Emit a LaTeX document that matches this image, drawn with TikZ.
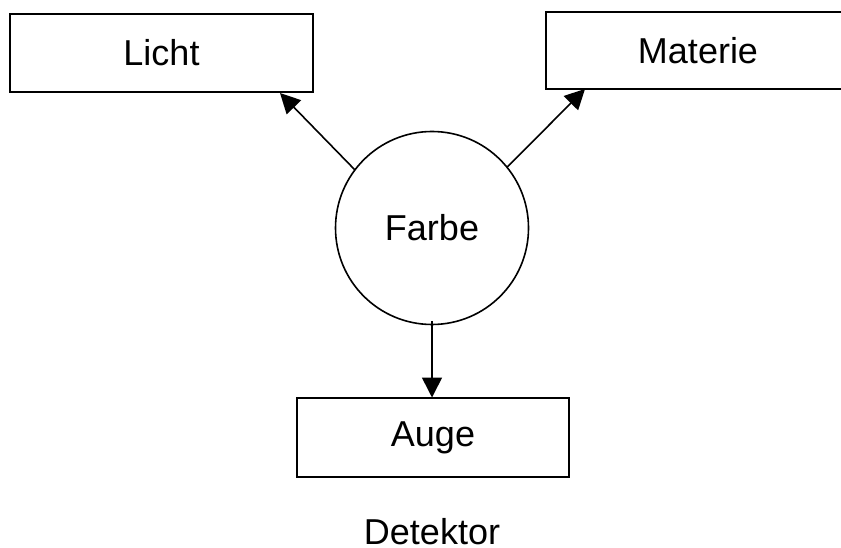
\documentclass[tikz,border=0pt]{standalone}
\usepackage{fontspec}
\setmainfont{Liberation Sans}
\usetikzlibrary{arrows.meta}
\begin{document}
\begin{tikzpicture}[x=0.75pt,y=-0.75pt,
  every node/.style={font=\fontsize{27}{32}\selectfont, inner sep=0pt, outer sep=0pt},
  boxnode/.style={draw, line width=1.2pt, rectangle},
  circnode/.style={draw, line width=1.2pt, circle, minimum size=144.75pt},
  conn/.style={line width=1.2pt, -{Triangle[length=15pt,width=15pt]}}]
\useasboundingbox (0,0) rectangle (841,548);
\node[boxnode, minimum width=227.25pt, minimum height=58.5pt] (licht) at (161.5,53) {Licht};
\node[boxnode, minimum width=228pt, minimum height=57.75pt] (materie) at (698,50.5) {Materie};
\node[circnode] (farbe) at (432,228) {Farbe};
\node[boxnode, minimum width=204pt, minimum height=59.25pt] (auge) at (433,437.5) {Auge};
\node (detektor) at (432,532) {Detektor};
\coordinate (lichttip) at (280,93);
\coordinate (materietip) at (585,89);
\coordinate (augetip) at (432,397.5);
\coordinate (augestart) at (432,321);
\draw[conn] (farbe.143) -- (lichttip);
\draw[conn] (farbe.39) -- (materietip);
\draw[conn] (augestart) -- (augetip);
\end{tikzpicture}
\end{document}
